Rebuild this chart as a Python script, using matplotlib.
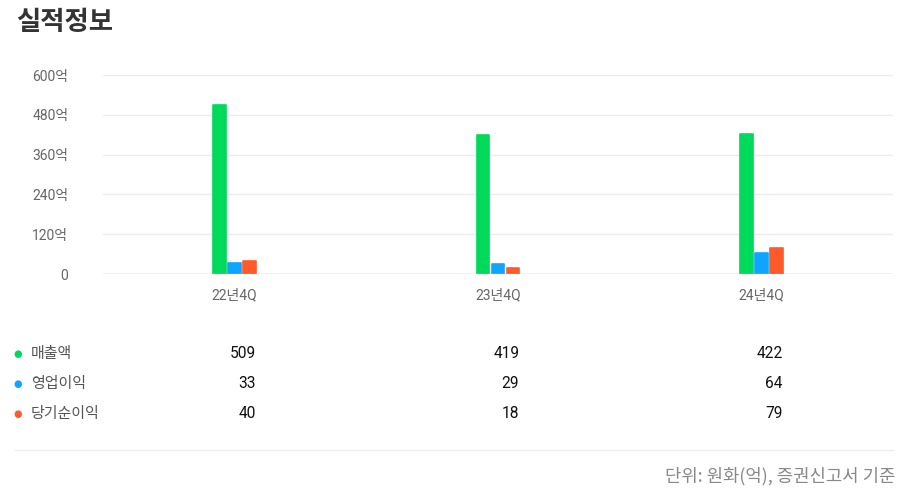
import matplotlib
matplotlib.use("Agg")
import matplotlib.pyplot as plt
from matplotlib.transforms import blended_transform_factory

# data (unit: 억원)
periods = ["22년4Q", "23년4Q", "24년4Q"]
series_names = ["매출액", "영업이익", "당기순이익"]
revenue = [509, 419, 422]
operating_profit = [33, 29, 64]
net_income = [40, 18, 79]
y_ticks = [0, 120, 240, 360, 480, 600]
y_tick_labels = ["0", "120억", "240억", "360억", "480억", "600억"]

colors = ["#00DA5B", "#0DA5FF", "#FF5B2A"]
FONT = ["Roboto", "Noto Sans CJK KR", "DejaVu Sans"]
plt.rcParams["font.family"] = FONT

W, H = 903, 499


def fx(px):
    return px / W


def fy(py):
    return 1 - py / H


def main():
    fig = plt.figure(figsize=(W / 100, H / 100), dpi=100)
    fig.patch.set_facecolor("white")

    # title
    fig.text(fx(16), fy(22), "실적정보", fontsize=19, fontweight="bold",
             color="#333333", va="center", ha="left", family=["Noto Sans CJK KR"])

    # chart area
    ax = fig.add_axes([fx(103), fy(274), fx(893) - fx(103), (274 - 75) / H])
    ax.set_xlim(-0.5, len(periods) - 0.5)
    ax.set_ylim(0, 600)

    width = 0.047
    offset = 0.057
    all_series = [revenue, operating_profit, net_income]
    for k, vals in enumerate(all_series):
        xs = [i + (k - 1) * offset for i in range(len(periods))]
        ax.bar(xs, vals, width=width, color=colors[k], edgecolor=colors[k],
               linewidth=1.2, joinstyle="round", zorder=3)

    for t in y_ticks[1:]:
        ax.axhline(t, color="#ECECEC", linewidth=1, zorder=1)
    ax.axhline(0, color="#BBBBBB", linewidth=1, zorder=4)

    for s in ax.spines.values():
        s.set_visible(False)
    ax.set_yticks(y_ticks)
    ax.set_yticklabels(y_tick_labels)
    ax.set_xticks(range(len(periods)))
    ax.set_xticklabels(periods)
    ax.tick_params(axis="both", length=0, labelsize=10, labelcolor="#666666")
    ax.tick_params(axis="y", pad=25)
    ax.tick_params(axis="x", pad=10)

    # table below chart
    row_y = [354, 384, 414]
    trans = blended_transform_factory(ax.transData, fig.transFigure)
    for k, name in enumerate(series_names):
        fig.text(fx(18), fy(row_y[k]), "●", color=colors[k], fontsize=7,
                 ha="center", va="center", family=["DejaVu Sans"])
        fig.text(fx(31), fy(row_y[k]), name, color="#555555", fontsize=10.8,
                 ha="left", va="center", family=["Noto Sans CJK KR"])
        for i, v in enumerate(all_series[k]):
            ax.text(i + offset + width / 2, fy(row_y[k]), str(v), transform=trans,
                    color="#111111", fontsize=11.2, ha="right", va="center",
                    family=["Roboto"])

    # separator and footnote
    fig.add_artist(plt.Line2D([fx(15), fx(893)], [fy(450), fy(450)],
                              color="#EEEEEE", linewidth=1))
    fig.text(fx(895), fy(476), "단위: 원화(억), 증권신고서 기준", color="#888888",
             fontsize=12.8, ha="right", va="center", family=["Noto Sans CJK KR"])

    fig.savefig("out.png", dpi=100)


if __name__ == "__main__":
    main()
